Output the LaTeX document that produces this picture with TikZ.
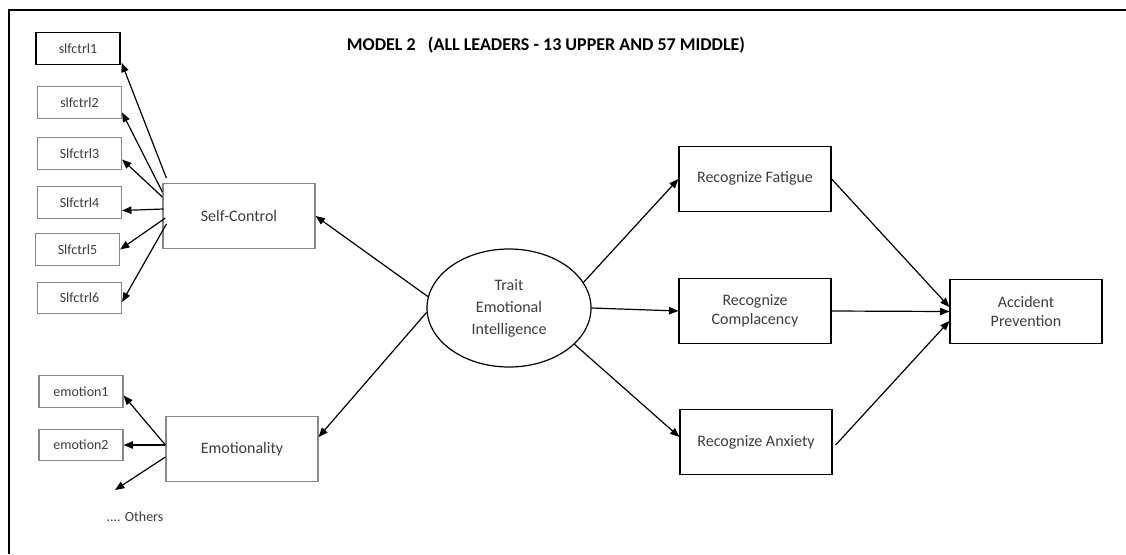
\documentclass[tikz,border=0pt]{standalone}
\usepackage{fontspec}
\setmainfont{Carlito}
\usetikzlibrary{arrows.meta,positioning,calc,shapes.geometric}
\definecolor{boxgray}{RGB}{135,135,135}
\definecolor{txtgray}{RGB}{60,60,60}

\begin{document}
\begin{tikzpicture}[x=0.75pt,y=-0.75pt,
    ind/.style={draw=boxgray, line width=0.9pt, minimum width=63pt, minimum height=23.5pt, inner sep=0pt, font=\fontsize{10.5}{12}\selectfont, text=txtgray},
    factor/.style={draw=boxgray, line width=0.9pt, minimum width=114pt, minimum height=48.5pt, inner sep=0pt, align=center, font=\fontsize{12}{14.5}\selectfont, text=txtgray},
    outcome/.style={factor, draw=black},
    latent/.style={ellipse, draw=black, line width=0.9pt, minimum width=123pt, minimum height=88.5pt, inner sep=0pt, align=center, font=\fontsize{12}{16.5}\selectfont, text=txtgray},
    path/.style={line width=0.9pt, -{Triangle[length=7pt,width=5.5pt]}}
]
\useasboundingbox (0,0) rectangle (1126,554);
\draw[line width=2.2pt] (1126,10) -- (9,10) -- (9,554);

\node[font=\bfseries\fontsize{13.5}{15}\selectfont] (title) at (546,45) {MODEL 2\ \ \ (ALL LEADERS - 13 UPPER AND 57 MIDDLE)};

% Indicators
\node[ind, draw=black] (s1) at (78,48.5) {slfctrl1};
\node[ind] (s2) at (79.5,102.5) {slfctrl2};
\node[ind] (s3) at (79.5,153.5) {Slfctrl3};
\node[ind] (s4) at (79.5,202.5) {Slfctrl4};
\node[ind] (s5) at (77.5,249.5) {Slfctrl5};
\node[ind] (s6) at (79.5,298) {Slfctrl6};
\node[ind] (e1) at (81,391.5) {emotion1};
\node[ind] (e2) at (81,445) {emotion2};
\node[font=\fontsize{10.5}{12}\selectfont, text=txtgray] (others) at (135,517) {.... Others};
\coordinate (oth) at (115,490);

% Factors
\node[factor] (sc) at (239,216) {\raisebox{-5pt}{Self-Control}};
\node[factor] (emo) at (242,449) {\raisebox{-6pt}{Emotionality}};
\node[latent] (tei) at (509,308) {Trait\\Emotional\\Intelligence};

\node[outcome] (rf) at (755,179) {\raisebox{3pt}{Recognize Fatigue}};
\node[outcome] (rc) at (755,311) {Recognize\\Complacency};
\node[outcome] (ra) at (756,442) {Recognize Anxiety};
\node[outcome] (ap) at (1026,311.5) {Accident\\Prevention};

% Paths
\draw[path] (tei.172) -- (sc.east);
\draw[path] (tei.183) -- ($(emo.east)+(0,-12)$);
\draw[path] ($(sc.north west)+(4,-5)$) -- ($(s1.south east)+(1,-2)$);
\draw[path] ($(sc.west)+(0,-24)$) -- ($(s2.east)+(0,10)$);
\draw[path] ($(sc.west)+(0,-19)$) -- ($(s3.east)+(0,6)$);
\draw[path] ($(sc.west)+(1,-7)$) -- ($(s4.east)+(0,8)$);
\draw[path] ($(sc.west)+(3,2)$) -- (s5.east);
\draw[path] ($(sc.west)+(4,8)$) -- ($(s6.east)+(0,4)$);
\draw[path] ($(emo.west)+(0,-4)$) -- ($(e1.east)+(0,4)$);
\draw[path] ($(emo.west)+(0,-4)$) -- (e2.east);
\draw[path] ($(emo.west)+(0,8)$) -- (oth);

\draw[path] (tei.19) -- (rf.west);
\draw[path] (tei.east) -- (rc.west);
\draw[path] (tei.-29) -- ($(ra.west)+(0,-5)$);
\draw[path] (rf.east) -- ($(ap.west)+(0,-4.5)$);
\draw[path] (rc.east) -- (ap.west);
\draw[path] ($(ra.east)+(3,3)$) -- ($(ap.west)+(0,9.5)$);
\end{tikzpicture}
\end{document}
